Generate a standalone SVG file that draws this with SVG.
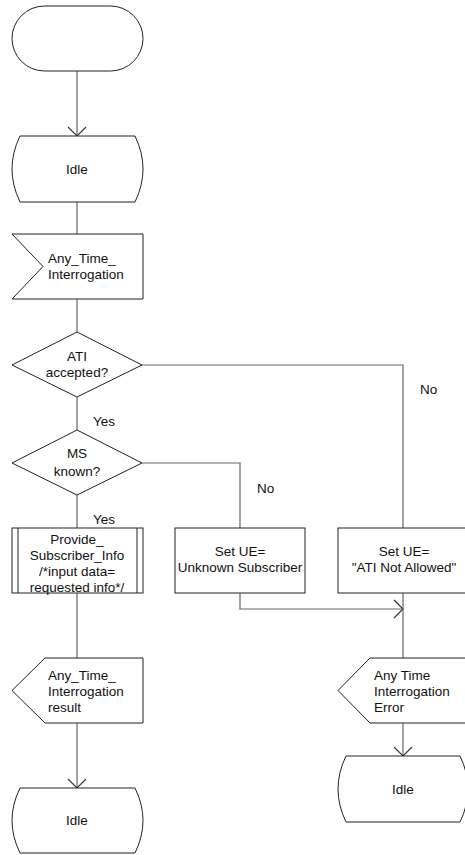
<svg xmlns="http://www.w3.org/2000/svg" width="465" height="855" viewBox="0 0 465 855">
<defs>
<style>
.s{fill:#fff;stroke:#222;stroke-width:1}
.c{fill:none;stroke:#666;stroke-width:1.2}
text{font-family:"Liberation Sans",Arial,sans-serif;font-size:13.5px;fill:#111}
.m{text-anchor:middle}
</style>
<marker id="ah" markerUnits="userSpaceOnUse" markerWidth="22" markerHeight="22" viewBox="-11 -11 22 22" refX="0" refY="0" orient="auto" overflow="visible">
<path d="M-9,-9 L0,0 L-9,9" fill="none" stroke="#333" stroke-width="1.2"/>
</marker>
</defs>
<rect width="465" height="855" fill="#fff"/>
<g id="connectors">
<path class="c" d="M77,71 V136" marker-end="url(#ah)"/>
<path class="c" d="M77,202 V234"/>
<path class="c" d="M77,299 V332"/>
<path class="c" d="M142,365 H403 V528"/>
<path class="c" d="M77,397 V430"/>
<path class="c" d="M142,463 H240 V528"/>
<path class="c" d="M77,495 V528"/>
<path class="c" d="M77,593 V658"/>
<path class="c" d="M77,723 V788" marker-end="url(#ah)"/>
<path class="c" d="M240,593 V609 H403" marker-end="url(#ah)"/>
<path class="c" d="M403,593 V658"/>
<path class="c" d="M403,723 V756" marker-end="url(#ah)"/>
</g>
<g id="labels">
<text x="93" y="426">Yes</text>
<text x="93" y="524">Yes</text>
<text x="420" y="394">No</text>
<text x="257" y="493">No</text>
</g>
<g id="start">
<rect class="s" x="12" y="6" width="131" height="65" rx="32.5"/>
</g>
<g id="idle1">
<path class="s" d="M20,136 H135 Q151,169 135,202 H20 Q4,169 20,136 Z"/>
<text class="m" x="77" y="174">Idle</text>
</g>
<g id="ati_input">
<path class="s" d="M12,234 H143 V299 H12 L43,266.5 Z"/>
<text x="48" y="263">Any_Time_</text>
<text x="48" y="279">Interrogation</text>
</g>
<g id="ati_accepted">
<path class="s" d="M12,365 L77,332 L142,365 L77,397 Z"/>
<text class="m" x="77" y="361">ATI</text>
<text class="m" x="77" y="377">accepted?</text>
</g>
<g id="ms_known">
<path class="s" d="M12,463 L77,430 L142,463 L77,495 Z"/>
<text class="m" x="77" y="458">MS</text>
<text class="m" x="77" y="476">known?</text>
</g>
<g id="provide_info">
<rect class="s" x="12" y="528" width="131" height="65"/>
<path class="s" d="M18,528 V593 M137,528 V593"/>
<text class="m" x="77" y="544">Provide_</text>
<text class="m" x="77" y="560">Subscriber_Info</text>
<text class="m" x="77" y="576">/*input data=</text>
<text class="m" x="77" y="592">requested info*/</text>
</g>
<g id="set_unknown">
<rect class="s" x="175" y="528" width="130" height="65"/>
<text class="m" x="240" y="556">Set UE=</text>
<text class="m" x="240" y="572">Unknown Subscriber</text>
</g>
<g id="set_not_allowed">
<rect class="s" x="338" y="528" width="130" height="65"/>
<text class="m" x="404" y="556">Set UE=</text>
<text class="m" x="404" y="572">"ATI Not Allowed"</text>
</g>
<g id="ati_result">
<path class="s" d="M45,658 H143 V723 H45 L12,690.5 Z"/>
<text x="48" y="680">Any_Time_</text>
<text x="48" y="696">Interrogation</text>
<text x="48" y="712">result</text>
</g>
<g id="ati_error">
<path class="s" d="M370,658 H470 V723 H370 L338,690.5 Z"/>
<text x="374" y="680">Any Time</text>
<text x="374" y="696">Interrogation</text>
<text x="374" y="712">Error</text>
</g>
<g id="idle2">
<path class="s" d="M20,788 H135 Q151,820.5 135,853 H20 Q4,820.5 20,788 Z"/>
<text class="m" x="77" y="825">Idle</text>
</g>
<g id="idle3">
<path class="s" d="M346,756 H460 Q476,789 460,822 H346 Q330,789 346,756 Z"/>
<text class="m" x="403" y="794">Idle</text>
</g>
</svg>
